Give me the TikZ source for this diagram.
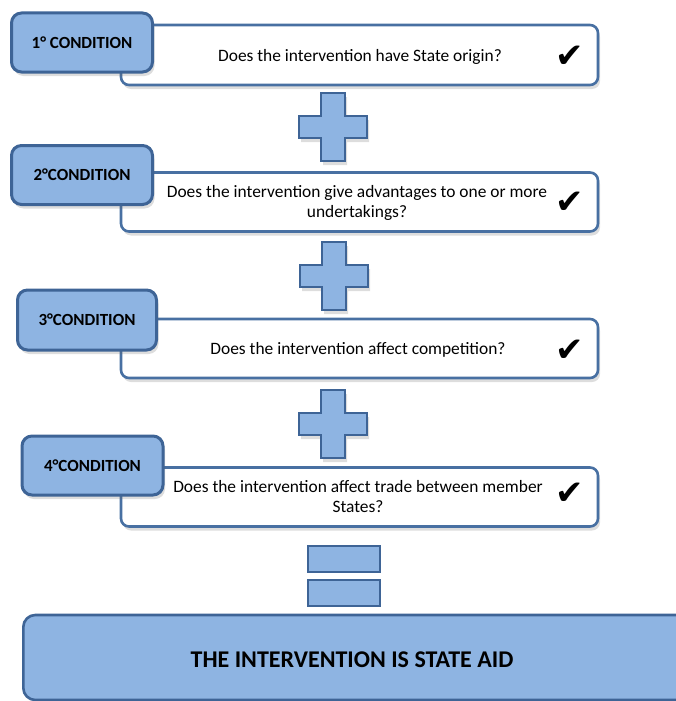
\documentclass[tikz,border=0pt]{standalone}
\usepackage{fontspec}
\setmainfont{Carlito}
\newfontfamily\symfont{DejaVu Sans}
\usetikzlibrary{shadows}
\definecolor{fillblue}{RGB}{142,180,226}
\definecolor{lineblue}{RGB}{62,100,150}
\definecolor{boxline}{RGB}{72,112,162}
\tikzset{
  shadowed/.style={drop shadow={opacity=0.22, fill=black!60, shadow xshift=2pt, shadow yshift=-4pt}},
  qbox/.style={draw=boxline, line width=2.6pt, fill=white, rounded corners=8pt, shadowed, inner sep=0pt},
  labelbox/.style={draw=lineblue, line width=3pt, fill=fillblue, rounded corners=10pt, shadowed, inner sep=0pt,
     font=\fontsize{17}{20}\selectfont\bfseries},
  qtext/.style={font=\fontsize{17.4}{20}\selectfont, align=center, inner sep=0pt},
  check/.style={font=\symfont\fontsize{34}{34}\selectfont, inner sep=0pt},
  plussign/.style={draw=lineblue, line width=2.6pt, fill=fillblue, shadowed},
  eqbar/.style={draw=lineblue, line width=2.6pt, fill=fillblue, minimum width=72pt, minimum height=26pt, inner sep=0pt},
  finalbox/.style={draw=lineblue, line width=2.6pt, fill=fillblue, rounded corners=12pt, inner sep=0pt}
}
\newcommand{\plusat}[2]{%
  \draw[plussign] (#1-12,#2-34) -- (#1+12,#2-34) -- (#1+12,#2-11) -- (#1+34,#2-11) -- (#1+34,#2+11)
    -- (#1+12,#2+11) -- (#1+12,#2+34) -- (#1-12,#2+34) -- (#1-12,#2+11) -- (#1-34,#2+11)
    -- (#1-34,#2-11) -- (#1-12,#2-11) -- cycle;}
\begin{document}
\begin{tikzpicture}[x=1pt,y=-1pt]
\useasboundingbox (0,0) rectangle (676,701);
% row 1
\node[qbox, minimum width=477pt, minimum height=60pt] (q1) at (359.5,55) {};
\node[labelbox, minimum width=141pt, minimum height=59pt] (l1) at (82,42.5) {1° CONDITION};
\node[qtext] (t1) at (360,57) {Does the intervention have State origin?};
\node[check] (c1) at (570,57) {✔};
% plus 1
\plusat{333}{127}
% row 2
\node[qbox, minimum width=477pt, minimum height=59pt] (q2) at (359.5,202) {};
\node[labelbox, minimum width=141pt, minimum height=59pt] (l2) at (82,175) {2°CONDITION};
\node[qtext] (t2) at (357,203) {Does the intervention give advantages to one or more\\undertakings?};
\node[check] (c2) at (570,203) {✔};
% plus 2
\plusat{334}{276}
% row 3
\node[qbox, minimum width=477pt, minimum height=59pt] (q3) at (359.5,348.5) {};
\node[labelbox, minimum width=139pt, minimum height=60pt] (l3) at (87,320) {3°CONDITION};
\node[qtext] (t3) at (358,350) {Does the intervention affect competition?};
\node[check] (c3) at (570,351) {✔};
% plus 3
\plusat{333}{424}
% row 4
\node[qbox, minimum width=477pt, minimum height=59pt] (q4) at (359.5,497) {};
\node[labelbox, minimum width=141pt, minimum height=59pt] (l4) at (92.5,465.5) {4°CONDITION};
\node[qtext] (t4) at (358,497) {Does the intervention affect trade between member\\States?};
\node[check] (c4) at (570,494) {✔};
% equals
\node[eqbar] (e1) at (344,559) {};
\node[eqbar] (e2) at (344,593) {};
% final
\node[finalbox, minimum width=680pt, minimum height=85pt, anchor=west] (fin) at (22,657.5) {};
\node[font=\fontsize{24}{28}\selectfont\bfseries, inner sep=0pt] (ft) at (352,660) {THE INTERVENTION IS STATE AID};
\end{tikzpicture}
\end{document}
